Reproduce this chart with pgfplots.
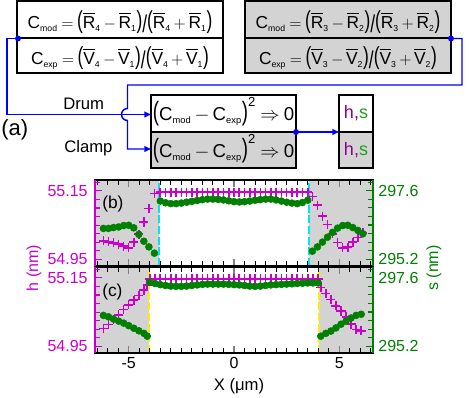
\documentclass[border=0pt]{standalone}
\usepackage{amsmath}
\usepackage{graphicx}
\usepackage{fontspec}
\setmainfont{Liberation Sans}
\usepackage{pgfplots}
\pgfplotsset{compat=1.18}
\usetikzlibrary{arrows.meta}

\definecolor{hcol}{RGB}{204,0,204}
\definecolor{scol}{RGB}{0,128,0}
\definecolor{graybg}{RGB}{211,211,211}
\definecolor{dcyan}{RGB}{0,230,240}
\definecolor{dyel}{RGB}{255,238,0}
\definecolor{lblue}{RGB}{0,0,255}
\definecolor{hpurple}{RGB}{140,0,140}
\definecolor{sgreen}{RGB}{30,160,30}

\newcommand\fsz[1]{\fontsize{#1}{#1}\selectfont}
\newcommand\sub[1]{_{\scriptscriptstyle\text{#1}}}
\newcommand\lp{\text{\scalebox{1}[1.42]{(}}}
\newcommand\rp{\text{\scalebox{1}[1.42]{)}}}
\newcommand\sla{\text{\raisebox{-0.2em}{\scalebox{1}[1.4]{/}}}}
\newcommand\Rb[1]{\overline{\text{R}\rule{0pt}{0.78em}}\sub{#1}}
\newcommand\Vb[1]{\overline{\text{V}\rule{0pt}{0.78em}}\sub{#1}}
\newcommand\ratio[3]{$\thickmuskip=4mu\medmuskip=3mu
  \text{C}\sub{#1}=\lp#2-#3\rp\sla\lp#2+#3\rp$}
\newcommand\fit{$\thickmuskip=4mu\medmuskip=3mu
  \lp\text{C}\sub{mod}-\text{C}\sub{exp}\rp^{\text{2}}\Rightarrow\text{0}$}

% tick marks along the frame of one panel, end points in axis units
% (3.5pt = 0.2216 in x, 0.01367 in h, 0.1639 in s; 5pt = 0.3165, 0.0195, 0.234)
\newcommand\frameticks{%
  \pgfplotsinvokeforeach{-6.5,-6,-5.5,-4.5,-4,-3.5,-3,-2.5,-2,-1.5,-1,-0.5,
                         0.5,1,1.5,2,2.5,3,3.5,4,4.5,5.5,6,6.5}{%
    \draw[black, line width=0.8pt] (axis cs:##1,54.93) -- (axis cs:##1,54.9437);
    \draw[black, line width=0.8pt] (axis cs:##1,55.182) -- (axis cs:##1,55.1683);}
  \pgfplotsinvokeforeach{-5,0,5}{%
    \draw[black, line width=0.8pt] (axis cs:##1,54.93) -- (axis cs:##1,54.9495);
    \draw[black, line width=0.8pt] (axis cs:##1,55.182) -- (axis cs:##1,55.1625);}
  \pgfplotsinvokeforeach{54.975,55,55.025,55.05,55.075,55.1,55.125,55.175}{%
    \draw[hcol, line width=0.8pt] (axis cs:-6.6,##1) -- (axis cs:-6.3784,##1);}
  \pgfplotsinvokeforeach{54.95,55.15}{%
    \draw[hcol, line width=0.8pt] (axis cs:-6.6,##1) -- (axis cs:-6.2835,##1);}
}
\newcommand\sticks{%
  \pgfplotsinvokeforeach{295.5,295.8,296.1,296.4,296.7,297,297.3,297.9}{%
    \draw[scol, line width=0.8pt] (axis cs:6.6,##1) -- (axis cs:6.3784,##1);}
  \pgfplotsinvokeforeach{295.2,297.6}{%
    \draw[scol, line width=0.8pt] (axis cs:6.6,##1) -- (axis cs:6.2835,##1);}
}

\pgfplotsset{
  panel/.style={scale only axis, width=208.5pt, height=64.5pt,
    xmin=-6.6, xmax=6.6, tick align=inside,
    major tick length=5pt,
    tick style={line width=0.8pt},
    axis line style={line width=1pt},
    tick label style={font=\fsz{12}}},
  hax/.style={axis on top, clip=false, xtick pos=both, ytick pos=left,
    ymin=54.93, ymax=55.182,
    xtick={-5,0,5},
    ytick={54.95,55.15}, yticklabels={54.95,55.15},
    ytick style={hcol},
    yticklabel style={text=hcol, xshift=-2pt}},
  sax/.style={clip=false, axis line style={draw=none},
    xtick=\empty, ytick pos=right,
    ymin=294.96, ymax=297.98,
    ytick={295.2,297.6}, yticklabels={295.2,297.6},
    ytick style={scol},
    yticklabel style={text=scol, xshift=0.5pt}},
  hmarks/.style={only marks, mark=+, mark size=3.4pt, hcol, mark options={line width=1.2pt}},
  smarks/.style={only marks, mark=*, mark size=2.6pt, scol},
}

\begin{document}
\begin{tikzpicture}
\path[use as bounding box] (0pt,-298.5pt) rectangle (351.75pt,0pt);

% panel (b): h
\begin{axis}[panel, hax, at={(71.25pt,-199.5pt)}, anchor=south west, xticklabels={}]
\addplot[draw=none, fill=graybg] coordinates {(-6.6,54.93) (-3.55,54.93) (-3.55,55.182) (-6.6,55.182)} -- cycle;
\addplot[draw=none, fill=graybg] coordinates {(3.55,54.93) (6.6,54.93) (6.6,55.182) (3.55,55.182)} -- cycle;
\addplot[dcyan, line width=1.5pt, dash pattern=on 6pt off 2pt] coordinates {(-3.55,54.93) (-3.55,55.182)};
\addplot[dcyan, line width=1.5pt, dash pattern=on 6pt off 2pt] coordinates {(3.55,54.93) (3.55,55.182)};
\frameticks
\addplot[hmarks] coordinates {
(-6.20,55.004) (-5.96,55.001) (-5.72,54.998) (-5.48,54.994) (-5.24,54.988) (-5.00,54.983)
(-4.76,55.000) (-4.52,55.023) (-4.28,55.059) (-4.04,55.099) (-3.78,55.143)
(-3.50,55.146) (-3.25,55.146) (-3.00,55.146) (-2.75,55.146) (-2.50,55.146) (-2.25,55.146)
(-2.00,55.146) (-1.75,55.146) (-1.50,55.146) (-1.25,55.146) (-1.00,55.146) (-0.75,55.146)
(-0.50,55.146) (-0.25,55.146) (0.00,55.146) (0.25,55.146) (0.50,55.146) (0.75,55.146)
(1.00,55.146) (1.25,55.146) (1.50,55.146) (1.75,55.146) (2.00,55.146) (2.25,55.146)
(2.50,55.146) (2.75,55.146) (3.00,55.146) (3.25,55.146) (3.50,55.146)
(3.72,55.134) (3.96,55.108) (4.20,55.076) (4.44,55.052) (4.68,55.024) (4.92,54.999)
(5.16,54.983) (5.40,54.985) (5.64,55.000) (5.88,55.013) (6.12,55.027)};
\end{axis}

% panel (b): s
\begin{axis}[panel, sax, at={(71.25pt,-199.5pt)}, anchor=south west]
\draw[hcol, line width=1pt] (rel axis cs:0,0) -- (rel axis cs:0,1);
\draw[scol, line width=1pt] (rel axis cs:1,0) -- (rel axis cs:1,1);
\sticks
\addplot[smarks] coordinates {
(-6.20,296.28) (-5.96,296.28) (-5.72,296.31) (-5.48,296.33) (-5.24,296.38) (-5.00,296.39)
(-4.76,296.30) (-4.52,296.07) (-4.28,295.83) (-4.04,295.63) (-3.78,295.41)
(-3.50,297.24) (-3.25,297.18) (-3.00,297.15) (-2.75,297.15) (-2.50,297.17) (-2.25,297.20)
(-2.00,297.23) (-1.75,297.26) (-1.50,297.29) (-1.25,297.31) (-1.00,297.31) (-0.75,297.30)
(-0.50,297.28) (-0.25,297.25) (0.00,297.22) (0.25,297.21) (0.50,297.22) (0.75,297.24)
(1.00,297.27) (1.25,297.29) (1.50,297.31) (1.75,297.31) (2.00,297.28) (2.25,297.24)
(2.50,297.20) (2.75,297.17) (3.00,297.15) (3.25,297.19) (3.50,297.27)
(3.72,295.48) (3.96,295.63) (4.20,295.80) (4.44,295.97) (4.68,296.14) (4.92,296.29)
(5.16,296.38) (5.40,296.39) (5.64,296.31) (5.88,296.21) (6.12,296.09)};
\end{axis}

% panel (c): h
\begin{axis}[panel, hax, at={(71.25pt,-264.75pt)}, anchor=south west, xticklabels={-5,0,5}]
\addplot[draw=none, fill=graybg] coordinates {(-6.6,54.93) (-4.05,54.93) (-4.05,55.182) (-6.6,55.182)} -- cycle;
\addplot[draw=none, fill=graybg] coordinates {(4.05,54.93) (6.6,54.93) (6.6,55.182) (4.05,55.182)} -- cycle;
\addplot[dyel, line width=1.5pt, dash pattern=on 6pt off 2pt] coordinates {(-4.05,54.93) (-4.05,55.182)};
\addplot[dyel, line width=1.5pt, dash pattern=on 6pt off 2pt] coordinates {(4.05,54.93) (4.05,55.182)};
\frameticks
\addplot[hmarks] coordinates {
(-6.20,55.002) (-5.96,55.014) (-5.72,55.028) (-5.48,55.042) (-5.24,55.057) (-5.00,55.071)
(-4.76,55.085) (-4.52,55.098) (-4.28,55.114) (-4.12,55.130)
(-4.00,55.147) (-3.75,55.147) (-3.50,55.147) (-3.25,55.147) (-3.00,55.147) (-2.75,55.147)
(-2.50,55.147) (-2.25,55.147) (-2.00,55.147) (-1.75,55.147) (-1.50,55.147) (-1.25,55.147)
(-1.00,55.147) (-0.75,55.147) (-0.50,55.147) (-0.25,55.147) (0.00,55.147) (0.25,55.147)
(0.50,55.147) (0.75,55.147) (1.00,55.147) (1.25,55.147) (1.50,55.147) (1.75,55.147)
(2.00,55.147) (2.25,55.147) (2.50,55.147) (2.75,55.147) (3.00,55.147) (3.25,55.147)
(3.50,55.147) (3.75,55.147) (4.00,55.147)
(4.12,55.122) (4.36,55.104) (4.60,55.087) (4.84,55.068) (5.08,55.053) (5.32,55.036)
(5.56,55.015) (5.80,54.999) (6.04,54.995)};
\end{axis}

% panel (c): s
\begin{axis}[panel, sax, at={(71.25pt,-264.75pt)}, anchor=south west]
\draw[hcol, line width=1pt] (rel axis cs:0,0) -- (rel axis cs:0,1);
\draw[scol, line width=1pt] (rel axis cs:1,0) -- (rel axis cs:1,1);
\sticks
\addplot[smarks] coordinates {
(-6.20,296.28) (-5.96,296.23) (-5.72,296.15) (-5.48,296.08) (-5.24,296.01) (-5.00,295.92)
(-4.76,295.83) (-4.52,295.74) (-4.28,295.65) (-4.12,295.55)
(-4.00,297.44) (-3.75,297.40) (-3.50,297.36) (-3.25,297.33) (-3.00,297.31) (-2.75,297.30)
(-2.50,297.30) (-2.25,297.31) (-2.00,297.33) (-1.75,297.35) (-1.50,297.37) (-1.25,297.38)
(-1.00,297.38) (-0.75,297.38) (-0.50,297.38) (-0.25,297.37) (0.00,297.36) (0.25,297.35)
(0.50,297.33) (0.75,297.31) (1.00,297.30) (1.25,297.31) (1.50,297.33) (1.75,297.35)
(2.00,297.36) (2.25,297.37) (2.50,297.38) (2.75,297.39) (3.00,297.40) (3.25,297.41)
(3.50,297.42) (3.75,297.42) (4.00,297.42)
(4.12,295.55) (4.36,295.65) (4.60,295.73) (4.84,295.84) (5.08,295.97) (5.32,296.08)
(5.56,296.19) (5.80,296.28) (6.04,296.32)};
\end{axis}

% diagram and labels, one unit = one pixel of the reference
\begin{scope}[x=0.75pt, y=-0.75pt]
\begin{scope}[line width=1.5pt]
\filldraw[fill=white] (17,1.5) rectangle (223,73);
\draw (17,38.5) -- (223,38.5);
\filldraw[fill=graybg] (245,1.5) rectangle (451,73);
\draw (245,38.5) -- (451,38.5);
\fill[graybg] (151,132) rectangle (296,168);
\draw (151,95) rectangle (296,168) (151,132) -- (296,132);
\fill[graybg] (339,132) rectangle (373,168);
\draw (339,95) rectangle (373,168) (339,132) -- (373,132);
\end{scope}

\node[anchor=base, inner sep=0] at (120,29) {\fsz{13}\ratio{mod}{\Rb{4}}{\Rb{1}}};
\node[anchor=base, inner sep=0] at (120,65) {\fsz{13}\ratio{exp}{\Vb{4}}{\Vb{1}}};
\node[anchor=base, inner sep=0] at (348,29) {\fsz{13}\ratio{mod}{\Rb{3}}{\Rb{2}}};
\node[anchor=base, inner sep=0] at (348,65) {\fsz{13}\ratio{exp}{\Vb{3}}{\Vb{2}}};
\node[anchor=base, inner sep=0] at (223.5,121) {\fsz{14}\fit};
\node[anchor=base, inner sep=0] at (223.5,157.5) {\fsz{14}\fit};
\node at (356,113.5) {\fsz{13.5}\textcolor{hpurple}{h,}\textcolor{sgreen}{s}};
\node at (356,150) {\fsz{13.5}\textcolor{hpurple}{h,}\textcolor{sgreen}{s}};

\begin{scope}[lblue, line width=1.1pt, >={Triangle[length=5pt,width=4.3pt]}]
\draw[->] (18,38.5) -- (7,38.5) -- (7,114.5) -- (151,114.5);
\draw[->] (451,38.5) -- (462,38.5) -- (462,85) -- (127.5,85) -- (127.5,108.5)
  arc[start angle=270, end angle=90, radius=6] -- (127.5,149) -- (151,149);
\draw[->] (296,132) -- (339,132);
\fill (18,38.5) circle[radius=3];
\fill (451,38.5) circle[radius=3];
\fill (296,132) circle[radius=3];
\end{scope}

\node[anchor=base west, inner sep=0] at (63,110) {\fsz{12.5}Drum};
\node[anchor=base west, inner sep=0] at (64,152.5) {\fsz{12.5}Clamp};
\node[anchor=base west, inner sep=0] at (1,135.5) {\fsz{16.5}(a)};
\node[anchor=base west, inner sep=0] at (102,208.5) {\fsz{13}(b)};
\node[anchor=base west, inner sep=0] at (102,296.5) {\fsz{13}(c)};
\node[rotate=90, text=hcol] at (34,268) {\fsz{12}h (nm)};
\node[rotate=90, text=scol] at (434,268) {\fsz{12}s (nm)};
\node at (239,386) {\fsz{12.5}X (μm)};
\end{scope}
\end{tikzpicture}
\end{document}
